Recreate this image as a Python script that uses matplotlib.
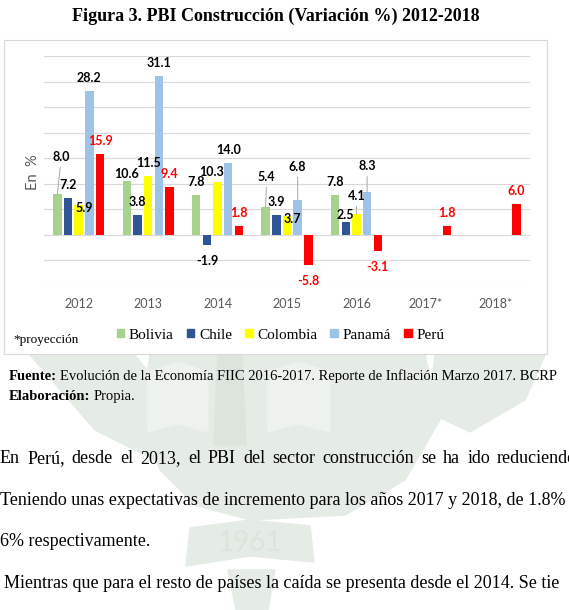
import numpy as np
import matplotlib
matplotlib.use('Agg')
import matplotlib.pyplot as plt
from matplotlib.patches import Rectangle, Polygon, Patch

# data
years = ['2012', '2013', '2014', '2015', '2016', '2017*', '2018*']
nan = np.nan
bolivia = [8.0, 10.6, 7.8, 5.4, 7.8, nan, nan]
chile = [7.2, 3.8, -1.9, 3.9, 2.5, nan, nan]
colombia = [5.9, 11.5, 10.3, 3.7, 4.1, nan, nan]
panama = [28.2, 31.1, 14.0, 6.8, 8.3, nan, nan]
peru = [15.9, 9.4, 1.8, -5.8, -3.1, 1.8, 6.0]
names = ['Bolivia', 'Chile', 'Colombia', 'Panamá', 'Perú']
colors = ['#a9d18e', '#2f5597', '#ffff00', '#9dc3e6', '#ff0000']

# label placement tweaks (pixels, up is positive); the rest sit above/below the bar
label_shift = {('Bolivia', 0): (4, 37, True), ('Colombia', 0): (6, -3, False),
               ('Bolivia', 1): (0, 7, False), ('Colombia', 2): (-6, 10, False),
               ('Bolivia', 3): (1, 30, True), ('Colombia', 3): (5, -3, False),
               ('Panamá', 3): (0, 33, True), ('Chile', 4): (0, 7, False),
               ('Colombia', 4): (0, 18, True), ('Panamá', 4): (0, 26, True)}

W, H = 569, 610
SERIF = 'Liberation Serif'
SANS = 'Lato'

fig = plt.figure(figsize=(W / 100, H / 100), dpi=100)
bg = fig.add_axes([0, 0, 1, 1], zorder=0)
bg.set_xlim(0, W)
bg.set_ylim(H, 0)
bg.axis('off')
renderer = fig.canvas.get_renderer()


def text_width(s, size, weight='normal', family=SERIF):
    t = bg.text(0, 0, s, fontsize=size, family=family, weight=weight)
    w = t.get_window_extent(renderer).width
    t.remove()
    return w


# faint university watermark behind the page text
wm = '#e5ebe5'
wm2 = '#dce4dc'
wm3 = '#eef2ee'
bg.add_patch(Polygon([(30, 355), (135, 355), (205, 445), (175, 470), (95, 430)], color=wm, zorder=0))
bg.add_patch(Polygon([(435, 355), (545, 355), (525, 400), (470, 432), (428, 412)], color=wm, zorder=0))
bg.add_patch(Polygon([(150, 355), (425, 355), (440, 420), (405, 480), (345, 515),
                      (250, 520), (195, 505), (160, 470), (140, 420)], color=wm, zorder=0))
bg.add_patch(Polygon([(148, 372), (178, 362), (208, 372), (208, 432), (178, 424), (148, 432)],
                     color=wm3, zorder=0))
bg.add_patch(Polygon([(268, 372), (298, 362), (330, 372), (330, 432), (298, 424), (268, 432)],
                     color=wm3, zorder=0))
bg.add_patch(Polygon([(218, 355), (242, 355), (246, 445), (214, 445)], color=wm2, zorder=0))
bg.add_patch(Polygon([(190, 528), (250, 520), (310, 526), (314, 562), (250, 556), (186, 566)],
                     color=wm, zorder=0))
bg.text(250, 543, '1961', fontsize=20, family=SANS, color=wm2, ha='center', va='center', zorder=0)
bg.add_patch(Polygon([(228, 570), (275, 570), (268, 610), (236, 610)], color=wm, zorder=0))

# chart frame
bg.add_patch(Rectangle((4, 40), 543, 314, facecolor='white', edgecolor='#d9d9d9', lw=0.8, zorder=1))

title = 'Figura 3. PBI Construcción (Variación %) 2012-2018'
tsize = 14 * 409 / text_width(title, 14, 'bold')
bg.text(276, 21, title, fontsize=tsize, family=SERIF, weight='bold', ha='center', va='baseline')

bg.text(33, 172, 'En  %', rotation=90, fontsize=10.5, family=SANS, color='#595959',
        ha='center', va='center', zorder=2)
bg.text(13, 343, '*proyección', fontsize=9.5, family=SERIF, ha='left', va='baseline', zorder=2)

# source lines
fs = 10.5
w1 = text_width('Fuente:', fs, 'bold')
bg.text(9, 380, 'Fuente:', fontsize=fs, family=SERIF, weight='bold', va='baseline')
bg.text(9 + w1 + 3, 380, 'Evolución de la Economía FIIC 2016-2017. Reporte de Inflación Marzo 2017. BCRP',
        fontsize=fs, family=SERIF, va='baseline')
w2 = text_width('Elaboración:', fs, 'bold')
bg.text(9, 400, 'Elaboración:', fontsize=fs, family=SERIF, weight='bold', va='baseline')
bg.text(9 + w2 + 3, 400, 'Propia.', fontsize=fs, family=SERIF, va='baseline')

# paragraph
line2 = 'Teniendo unas expectativas de incremento para los años 2017 y 2018, de 1.8%'
psize = 12 * 565 / text_width(line2, 12)
words = ['En', 'Perú,', 'desde', 'el', '2013,', 'el', 'PBI', 'del', 'sector',
         'construcción', 'se', 'ha', 'ido', 'reduciendo.']
ww = [text_width(w, psize) for w in words]
gap = (497 - sum(ww[:-1])) / (len(words) - 1)
x = 0
for w, wd in zip(words, ww):
    bg.text(x, 463, w, fontsize=psize, family=SERIF, va='baseline')
    x += wd + gap
bg.text(0, 505, line2, fontsize=psize, family=SERIF, va='baseline')
bg.text(0, 546, '6% respectivamente.', fontsize=psize, family=SERIF, va='baseline')
bg.text(4, 588, 'Mientras que para el resto de países la caída se presenta desde el 2014. Se tie',
        fontsize=psize, family=SERIF, va='baseline')

# the chart itself
ax = fig.add_axes([44 / W, 1 - 286 / H, 486 / W, 230 / H], zorder=2)
ax.patch.set_alpha(0)
series = [bolivia, chile, colombia, panama, peru]
xs = np.arange(len(years))
step, bw = 0.154, 0.122
for j, (name, vals, col) in enumerate(zip(names, series, colors)):
    vals = np.array(vals)
    ok = ~np.isnan(vals)
    pos = xs + (j - 2) * step
    ax.bar(pos[ok], vals[ok], width=bw, color=col, zorder=3)
    tcol = '#ff0000' if name == 'Perú' else '#000000'
    for i in np.where(ok)[0]:
        v = vals[i]
        dx, dy, lead = label_shift.get((name, i), (0, 13 if v >= 0 else -16, False))
        ap = dict(arrowstyle='-', color='#a6a6a6', lw=0.7, shrinkA=1, shrinkB=0) if lead else None
        ax.annotate(f'{v:.1f}', xy=(pos[i], v), xytext=(dx, dy), textcoords='offset pixels',
                    ha='center', va='center', fontsize=9, family=SANS, weight='bold',
                    color=tcol, arrowprops=ap, zorder=4)

ax.set_xlim(-0.5, 6.5)
ax.set_ylim(-10, 35)
ax.set_yticks(np.arange(-10, 36, 5))
ax.yaxis.grid(True, color='#d9d9d9', lw=0.8)
ax.set_axisbelow(True)
ax.tick_params(axis='y', length=0, labelleft=False)
ax.set_xticks(xs)
ax.set_xticklabels(years, fontsize=9, family=SANS, color='#595959')
ax.tick_params(axis='x', length=0, pad=9)
for s in ax.spines.values():
    s.set_visible(False)

handles = [Patch(color=c) for c in colors]
leg = fig.legend(handles, names, loc='center left', bbox_to_anchor=(103 / W, 1 - 335 / H),
                 ncol=5, frameon=False, handlelength=0.5, handleheight=0.5, handletextpad=0.3,
                 columnspacing=0.85, prop={'family': SERIF, 'size': 11})
leg.set_zorder(3)

fig.savefig('out.png', dpi=100, facecolor='white')
